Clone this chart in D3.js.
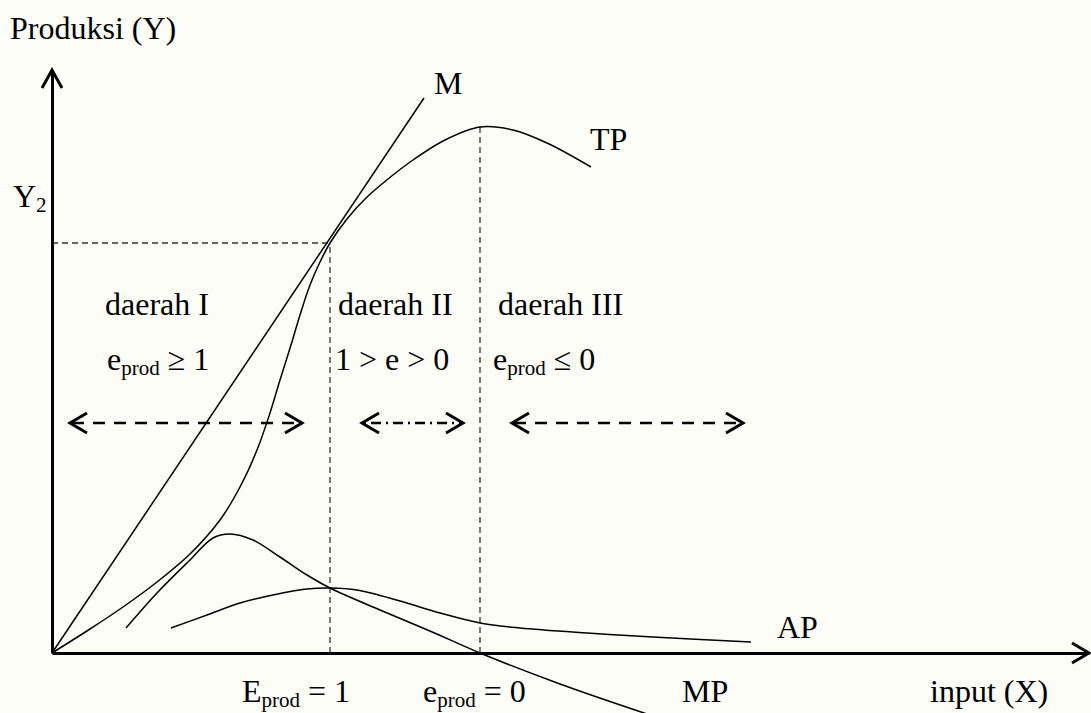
<!DOCTYPE html>
<html><head><meta charset="utf-8">
<script src="https://cdn.jsdelivr.net/npm/d3@7"></script>
<style>
html,body{margin:0;padding:0;background:#fdfdf8;}
svg{display:block;}
text{font-family:"Liberation Serif","Times New Roman",serif;fill:#000;}
</style></head><body>
<svg id="chart" width="1091" height="713"></svg>
<script>
// ---- data (arbitrary units: input X, production Y) ----
const tpInput  = [0, 3.8, 7.1, 10.5, 13.8, 16.8, 18.8, 20.5, 21.8, 22.8, 23.9, 24.8, 25.8, 26.8, 27.8, 29.5, 31.4, 33.6, 36.1, 39.3, 42.8, 46.1, 49.5, 53.9];
const tpOutput = [0, 2.4, 4.6, 7.1, 9.9, 13.3, 16.6, 20.3, 24.0, 27.3, 30.8, 33.8, 36.8, 39.1, 41.0, 43.4, 45.5, 47.4, 49.3, 51.3, 52.6, 52.3, 51.0, 48.6];
const mpInput  = [7.4, 10.5, 13.8, 16.1, 17.8, 20.1, 22.8, 25.5, 27.8, 32.8, 37.8, 42.8, 50.8, 59.8];
const mpOutput = [2.5, 6.0, 9.3, 11.5, 11.9, 11.3, 9.6, 7.8, 6.5, 4.3, 2.2, 0, -3.1, -6.2];
const apInput  = [11.9, 15.5, 18.8, 22.1, 25.5, 27.8, 30.5, 34.8, 38.8, 42.8, 46.8, 53.5, 60.1, 69.9];
const apOutput = [2.5, 3.8, 5.0, 5.8, 6.4, 6.5, 6.3, 5.2, 4.0, 3.0, 2.5, 2.0, 1.6, 1.1];
const mRayInput  = [0, 37.2];
const mRayOutput = [0, 55.5];
const stageBounds = [27.8, 42.8];        // E_prod = 1 , e_prod = 0
const stageBoundOutput = [41.0, 52.6];   // TP at those inputs
const y2Value = 41.0;
const regionNames = ["daerah I", "daerah II", "daerah III"];
const rangeStart = [1.8, 31.0, 46.0];
const rangeEnd   = [25.0, 41.1, 69.1];
const rangeLevel = 23.0;

const svg = d3.select("#chart");
const x = d3.scaleLinear().domain([0, 103.7]).range([52, 1089]);
const y = d3.scaleLinear().domain([0, 58.3]).range([653, 70]);

const zip = (a, b) => a.map((v, i) => [v, b[i]]);
const line = d3.line().x(d => x(d[0])).y(d => y(d[1])).curve(d3.curveCatmullRom.alpha(0.5));
const straight = d3.line().x(d => x(d[0])).y(d => y(d[1]));

// dashed guides
const g = svg.append("g").attr("stroke", "#333").attr("stroke-width", 1.3).attr("stroke-dasharray", "6,4").attr("fill", "none");
stageBounds.forEach((b, i) => {
  g.append("line").attr("x1", x(b)).attr("x2", x(b)).attr("y1", y(0)).attr("y2", y(stageBoundOutput[i]));
});
g.append("line").attr("x1", x(0)).attr("x2", x(stageBounds[0])).attr("y1", y(y2Value)).attr("y2", y(y2Value));

// axes
svg.append("g").attr("transform", `translate(0,${y(0)})`)
  .call(d3.axisBottom(x).tickValues([]).tickSizeOuter(0));
svg.append("g").attr("transform", `translate(${x(0)},0)`)
  .call(d3.axisLeft(y).tickValues([]).tickSizeOuter(0));
svg.selectAll(".domain").attr("stroke", "#000").attr("stroke-width", 3);
const ax = svg.append("g").attr("stroke", "#000").attr("stroke-width", 3).attr("fill", "none");
ax.append("path").attr("d", `M${x(0)-10},${y(58.3)+18}L${x(0)},${y(58.3)}L${x(0)+10},${y(58.3)+18}`);
ax.append("path").attr("d", `M${x(103.7)-17},${y(0)-10}L${x(103.7)},${y(0)}L${x(103.7)-17},${y(0)+10}`);

// curves
const c = svg.append("g").attr("fill", "none").attr("stroke", "#000").attr("stroke-width", 1.5);
c.append("path").attr("d", straight(zip(mRayInput, mRayOutput)));
c.append("path").attr("d", line(zip(tpInput, tpOutput)));
c.append("path").attr("d", line(zip(mpInput, mpOutput)));
c.append("path").attr("d", line(zip(apInput, apOutput)));

// range arrows
const dashes = ["12,9", "2,5,10,5", "12,9"];
rangeStart.forEach((s, i) => {
  const yy = y(rangeLevel);
  const x1 = x(s), x2 = x(rangeEnd[i]);
  svg.append("line").attr("x1", x1 + 2).attr("x2", x2 - 2).attr("y1", yy).attr("y2", yy)
    .attr("stroke", "#000").attr("stroke-width", 2.5).attr("stroke-dasharray", dashes[i]);
  svg.append("path").attr("d", `M${x1+17},${yy-10}L${x1},${yy}L${x1+17},${yy+10}`)
    .attr("fill", "none").attr("stroke", "#000").attr("stroke-width", 3);
  svg.append("path").attr("d", `M${x2-17},${yy-10}L${x2},${yy}L${x2-17},${yy+10}`)
    .attr("fill", "none").attr("stroke", "#000").attr("stroke-width", 3);
});

// text
const FS = 32, SUB = 21;
function label(px, py, parts) {
  const t = svg.append("text").attr("x", px).attr("y", py).attr("font-size", FS);
  let shift = 0;
  parts.forEach(p => {
    const ts = t.append("tspan");
    if (p.sub) { ts.attr("font-size", SUB).attr("dy", 5 - shift); shift = 5; }
    else if (shift) { ts.attr("dy", -shift); shift = 0; }
    ts.text(p.t);
  });
  return t;
}
label(10, 39, [{t: "Produksi (Y)"}]);
label(13, 207, [{t: "Y"}, {t: "2", sub: true}]);
label(434, 94, [{t: "M"}]);
label(590, 150, [{t: "TP"}]);
label(777, 638, [{t: "AP"}]);
label(682, 702, [{t: "MP"}]);
label(930, 702, [{t: "input (X)"}]);
label(242, 702, [{t: "E"}, {t: "prod", sub: true}, {t: " = 1"}]);
label(423, 702, [{t: "e"}, {t: "prod", sub: true}, {t: " = 0"}]);

const regionX = [105, 338, 498];
regionNames.forEach((n, i) => label(regionX[i], 315, [{t: n}]));
label(107, 370, [{t: "e"}, {t: "prod", sub: true}, {t: " \u2265 1"}]);
label(335, 370, [{t: "1 > e > 0"}]);
label(493, 370, [{t: "e"}, {t: "prod", sub: true}, {t: " \u2264 0"}]);
</script>
</body></html>
